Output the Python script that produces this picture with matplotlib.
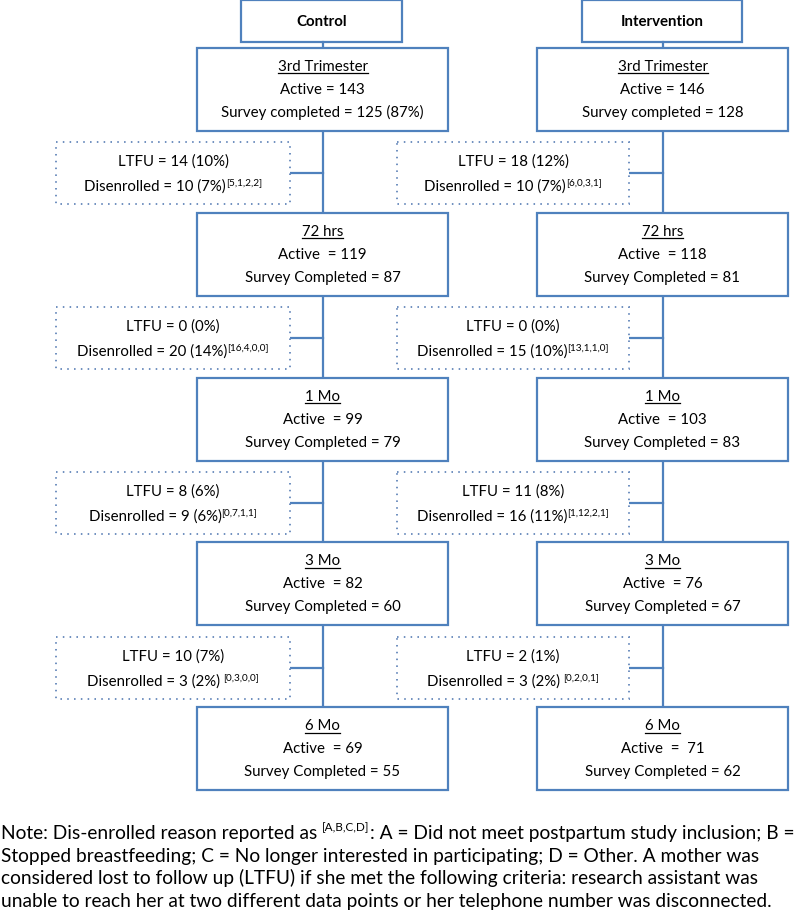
import matplotlib
matplotlib.use('Agg')
import matplotlib.pyplot as plt
from matplotlib.patches import Rectangle

groups = ['Control', 'Intervention']
timepoints = ['3rd Trimester', '72 hrs', '1 Mo', '3 Mo', '6 Mo']
active_labels = ['Active = ', 'Active  = ', 'Active  = ', 'Active  = ', 'Active  = ']
survey_labels = ['Survey completed = ', 'Survey Completed = ', 'Survey Completed = ',
                 'Survey Completed = ', 'Survey Completed = ']
active_ctrl = ['143', '119', '99', '82', '69']
active_int = ['146', '118', '103', '76', ' 71']
survey_ctrl = ['125 (87%)', '87', '79', '60', '55']
survey_int = ['128', '81', '83', '67', '62']
ltfu_ctrl = ['14 (10%)', '0 (0%)', '8 (6%)', '10 (7%)']
ltfu_int = ['18 (12%)', '0 (0%)', '11 (8%)', '2 (1%)']
dis_ctrl = ['10 (7%)', '20 (14%)', '9 (6%)', '3 (2%)']
dis_int = ['10 (7%)', '15 (10%)', '16 (11%)', '3 (2%)']
reasons_ctrl = ['[5,1,2,2]', '[16,4,0,0]', '[0,7,1,1]', '[0,3,0,0]']
reasons_int = ['[6,0,3,1]', '[13,1,1,0]', '[1,12,2,1]', '[0,2,0,1]']
note_lines = [
    ('Note: Dis-enrolled reason reported as ', '[A,B,C,D]', ': A = Did not meet postpartum study inclusion; B ='),
    ('Stopped breastfeeding; C = No longer interested in participating; D = Other. A mother was', '', ''),
    ('considered lost to follow up (LTFU) if she met the following criteria: research assistant was', '', ''),
    ('unable to reach her at two different data points or her telephone number was disconnected.', '', ''),
]

plt.rcParams['font.family'] = ['Lato', 'DejaVu Sans']
BLUE = '#4F81BD'
FS = 10.8
SFS = 7.2
NFS = 13.75

fig = plt.figure(figsize=(8, 9.21), dpi=100)
ax = fig.add_axes([0, 0, 1, 1])
ax.set_xlim(0, 800)
ax.set_ylim(921, 0)
ax.axis('off')
R = fig.canvas.get_renderer()


def width(t):
    return t.get_window_extent(R).width


def rich(x, y, parts, ha='center', fs=FS, sfs=SFS, raise_=6, underline=False, weight='normal'):
    """parts: list of (text, is_sup)"""
    ts = []
    for s, sup in parts:
        if not s:
            continue
        t = ax.text(0, y - (raise_ if sup else 0), s, fontsize=(sfs if sup else fs),
                    va='baseline', ha='left', color='black', weight=weight)
        ts.append(t)
    ws = [width(t) for t in ts]
    total = sum(ws)
    x0 = x - total / 2 if ha == 'center' else x
    cur = x0
    for t, w in zip(ts, ws):
        t.set_x(cur)
        cur += w
    if underline:
        ax.plot([x0, x0 + total], [y + 2.5, y + 2.5], color='black', lw=0.9)


col_box = [(197, 448), (537, 788)]
col_head = [(241, 402), (582, 742)]
col_dot = [(56, 290), (397, 629)]
col_line = [322.5, 662.5]
box_top0, box_step, box_h = 48, 164.75, 83
dot_top0, dot_step, dot_h = 142, 165, 62

actives = [active_ctrl, active_int]
surveys = [survey_ctrl, survey_int]
ltfus = [ltfu_ctrl, ltfu_int]
diss = [dis_ctrl, dis_int]
reasons = [reasons_ctrl, reasons_int]

for g in range(2):
    cx = col_line[g]
    hx0, hx1 = col_head[g]
    ax.add_patch(Rectangle((hx0, 0), hx1 - hx0, 42, fill=False, ec=BLUE, lw=1.6))
    rich((hx0 + hx1) / 2, 26, [(groups[g], False)], weight='bold')
    # vertical spine
    last_top = box_top0 + box_step * (len(timepoints) - 1)
    ax.plot([cx, cx], [42, last_top], color=BLUE, lw=1.6, zorder=0)
    bx0, bx1 = col_box[g]
    for i, tp in enumerate(timepoints):
        top = box_top0 + box_step * i
        ax.add_patch(Rectangle((bx0, top), bx1 - bx0, box_h, fc='white', ec=BLUE, lw=1.6, zorder=2))
        bc = (bx0 + bx1) / 2
        rich(bc, top + 23, [(tp, False)], underline=True)
        rich(bc, top + 46, [(active_labels[i] + actives[g][i], False)])
        rich(bc, top + 69, [(survey_labels[i] + surveys[g][i], False)])
    dx0, dx1 = col_dot[g]
    for i in range(len(ltfus[g])):
        top = dot_top0 + dot_step * i
        ax.add_patch(Rectangle((dx0, top), dx1 - dx0, dot_h, fc='white', ec='#6F8FBF', lw=1.4,
                               ls=(0, (0.8, 2.7)), zorder=2))
        ym = top + dot_h / 2
        ax.plot([dx1, cx], [ym, ym], color=BLUE, lw=1.6, zorder=1)
        dc = (dx0 + dx1) / 2
        rich(dc, top + 24, [('LTFU = ' + ltfus[g][i], False)])
        sep = ' ' if i == 3 else ''
        rich(dc, top + 49, [('Disenrolled = ' + diss[g][i] + sep, False), (reasons[g][i], True)])

for k, (a, b, c) in enumerate(note_lines):
    y = 839 + 22.7 * k
    rich(1, y, [(a, False), (b, True), (c, False)], ha='left', fs=NFS, sfs=8.5, raise_=8)

fig.savefig('out.png', dpi=100)
